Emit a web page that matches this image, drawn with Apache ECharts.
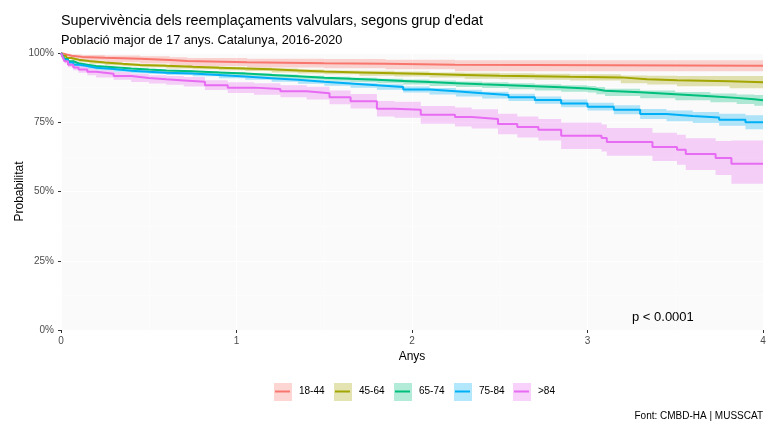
<!DOCTYPE html>
<html>
<head>
<meta charset="utf-8">
<script src="https://cdn.jsdelivr.net/npm/echarts@6/dist/echarts.min.js"></script>
<style>
  html, body { margin: 0; padding: 0; background: #ffffff; }
  #chart { width: 774px; height: 424px; }
</style>
</head>
<body>
<div id="chart"></div>
<script>
// Age groups and their colours
const groups = ['18-44', '45-64', '65-74', '75-84', '>84'];
const colors = ['#F8766D', '#A3A500', '#00BF7D', '#00B0F6', '#E76BF3'];

// Kaplan-Meier step estimates (time in years) with confidence limits
const t1844 = [0, 0.01, 0.03, 0.06, 0.12, 0.25, 0.45, 0.62, 0.72, 1.06, 1.5, 1.85, 2.245];
const s1844 = [1, 0.995, 0.99, 0.986, 0.983, 0.979, 0.975, 0.971, 0.967, 0.963, 0.961, 0.958, 0.954];
const lo1844 = [1, 0.990, 0.983, 0.977, 0.972, 0.967, 0.962, 0.957, 0.953, 0.948, 0.945, 0.941, 0.934];
const hi1844 = [1, 0.999, 0.997, 0.995, 0.993, 0.991, 0.988, 0.985, 0.982, 0.979, 0.978, 0.976, 0.974];

const t4564 = [0, 0.01, 0.03, 0.06, 0.1, 0.16, 0.25, 0.35, 0.45, 0.6, 0.75, 0.9, 1.05, 1.2, 1.35, 1.5, 1.7, 1.9, 2.1, 2.3, 2.5, 2.7, 2.9, 3.19, 3.34, 3.51, 3.81];
const s4564 = [1, .990, .982, .976, .971, .966, .961, .957, .954, .950, .947, .944, .941, .937, .933, .930, .927, .924, .921, .918, .916, .914, .912, .905, .902, .898, .894];
const lo4564 = [1, .987, .978, .972, .967, .961, .956, .952, .949, .944, .941, .938, .935, .930, .926, .923, .918, .915, .912, .907, .905, .903, .901, .891, .886, .880, .873];
const hi4564 = [1, .993, .986, .980, .975, .971, .966, .962, .959, .956, .953, .950, .947, .944, .940, .937, .936, .933, .930, .929, .927, .925, .923, .919, .918, .917, .917];

const t6574 = [0, 0.01, 0.02, 0.04, 0.07, 0.1, 0.15, 0.2, 0.3, 0.4, 0.5, 0.6, 0.75, 0.9, 1.05, 1.2, 1.35, 1.5, 1.65, 1.8, 1.95, 2.1, 2.25, 2.4, 2.55, 2.7, 2.85, 3.0, 3.05, 3.1, 3.3, 3.5, 3.7, 3.85, 3.95];
const s6574 = [1, .988, .978, .970, .963, .958, .953, .949, .944, .940, .937, .934, .930, .926, .921, .916, .911, .907, .903, .899, .895, .891, .887, .884, .880, .876, .872, .869, .864, .858, .851, .844, .838, .833, .829];
const lo6574 = [1, .986, .975, .967, .960, .955, .949, .945, .940, .936, .933, .929, .925, .921, .915, .910, .904, .900, .895, .891, .886, .881, .877, .874, .869, .865, .860, .857, .851, .845, .837, .829, .822, .816, .810];
const hi6574 = [1, .990, .981, .973, .966, .961, .957, .953, .948, .944, .941, .939, .935, .931, .927, .922, .918, .914, .911, .907, .904, .901, .897, .894, .891, .887, .884, .881, .877, .871, .865, .859, .854, .850, .848];

const t7584 = [0, 0.01, 0.02, 0.04, 0.07, 0.1, 0.15, 0.2, 0.3, 0.4, 0.5, 0.6, 0.75, 0.9, 1.05, 1.2, 1.35, 1.5, 1.65, 1.8, 1.95, 2.1, 2.25, 2.4, 2.55, 2.7, 2.85, 3.0, 3.15, 3.3, 3.45, 3.6, 3.75, 3.9];
const s7584 = [1, .986, .975, .966, .958, .953, .947, .942, .936, .932, .929, .926, .921, .915, .909, .903, .896, .890, .884, .877, .868, .862, .855, .848, .840, .830, .818, .806, .795, .780, .773, .767, .759, .750];
const lo7584 = [1, .984, .972, .963, .955, .949, .943, .938, .932, .927, .924, .921, .916, .909, .903, .896, .889, .882, .875, .867, .857, .850, .843, .836, .827, .817, .804, .792, .779, .762, .754, .747, .737, .725];
const hi7584 = [1, .988, .978, .969, .961, .957, .951, .946, .940, .937, .934, .931, .926, .921, .915, .910, .903, .898, .893, .887, .879, .874, .867, .860, .853, .843, .832, .820, .811, .798, .792, .787, .781, .775];

const t84 = [0, 0.01, 0.02, 0.04, 0.07, 0.1, 0.15, 0.2, 0.3, 0.4, 0.5, 0.6, 0.7, 0.82, 0.95, 1.1, 1.25, 1.4, 1.53, 1.65, 1.8, 1.9, 2.05, 2.245, 2.34, 2.49, 2.6, 2.72, 2.85, 3.08, 3.11, 3.37, 3.51, 3.56, 3.73, 3.82];
const s84 = [1, .984, .970, .958, .948, .940, .932, .925, .917, .910, .905, .901, .896, .884, .875, .870, .862, .855, .840, .826, .799, .795, .777, .769, .762, .744, .733, .723, .701, .693, .679, .661, .651, .635, .621, .600];
const lo84 = [1, .978, .962, .949, .938, .929, .920, .912, .903, .895, .890, .885, .879, .866, .856, .849, .840, .832, .815, .800, .771, .766, .745, .735, .727, .707, .695, .684, .653, .644, .629, .610, .597, .578, .560, .528];
const hi84 = [1, .990, .978, .967, .958, .951, .944, .938, .931, .925, .920, .917, .913, .902, .894, .891, .884, .878, .865, .852, .827, .824, .809, .803, .797, .781, .771, .762, .749, .742, .729, .712, .705, .692, .682, .684];

const times = [t1844, t4564, t6574, t7584, t84];
const surv = [s1844, s4564, s6574, s7584, s84];
const lower = [lo1844, lo4564, lo6574, lo7584, lo84];
const upper = [hi1844, hi4564, hi6574, hi7584, hi84];

const yTicks = [0, 0.25, 0.5, 0.75, 1];
const xTicks = [0, 1, 2, 3, 4];
const tMax = 4;

const FONT = "'Liberation Sans', Arial, sans-serif";

function hexA(hex, a) {
  const n = parseInt(hex.slice(1), 16);
  return `rgba(${(n >> 16) & 255},${(n >> 8) & 255},${n & 255},${a})`;
}

// Step-shaped confidence band drawn as one polygon
function bandSeries(i) {
  const t = times[i], lo = lower[i], hi = upper[i];
  return {
    type: 'custom',
    name: groups[i] + ' CI',
    coordinateSystem: 'cartesian2d',
    silent: true,
    z: 1,
    clip: true,
    data: [[0, 1]],
    encode: { x: 0, y: 1 },
    renderItem: function (params, api) {
      const pts = [];
      for (let k = 0; k < t.length; k++) {
        const next = k + 1 < t.length ? t[k + 1] : tMax;
        pts.push(api.coord([t[k], hi[k]]));
        pts.push(api.coord([next, hi[k]]));
      }
      for (let k = t.length - 1; k >= 0; k--) {
        const next = k + 1 < t.length ? t[k + 1] : tMax;
        pts.push(api.coord([next, lo[k]]));
        pts.push(api.coord([t[k], lo[k]]));
      }
      return {
        type: 'polygon',
        shape: { points: pts },
        style: { fill: hexA(colors[i], 0.3), stroke: null }
      };
    }
  };
}

function lineSeries(i) {
  const t = times[i], s = surv[i];
  const data = t.map((v, k) => [v, s[k]]);
  data.push([tMax, s[s.length - 1]]);
  return {
    type: 'line',
    name: groups[i],
    step: 'end',
    data: data,
    showSymbol: false,
    symbol: 'none',
    z: 3,
    lineStyle: { color: colors[i], width: 2 },
    itemStyle: { color: colors[i] },
    animation: false
  };
}

const series = [];
groups.forEach((g, i) => series.push(bandSeries(i)));
groups.forEach((g, i) => series.push(lineSeries(i)));

// Legend keys: shaded box with the line across it
const legendX = [273, 333, 393, 453, 512];
const legendGraphics = [];
groups.forEach((g, i) => {
  const x = legendX[i];
  legendGraphics.push({
    type: 'rect', left: x, top: 382,
    shape: { width: 19, height: 19 },
    style: { fill: hexA(colors[i], 0.3), stroke: '#ffffff', lineWidth: 1 }
  });
  legendGraphics.push({
    type: 'line',
    shape: { x1: x + 2, y1: 391.5, x2: x + 17, y2: 391.5 },
    style: { stroke: colors[i], lineWidth: 2 }
  });
  legendGraphics.push({
    type: 'text', left: x + 26, top: 386,
    style: { text: g, fill: '#000000', font: '10px ' + FONT }
  });
});

const chart = echarts.init(document.getElementById('chart'), null, { renderer: 'canvas' });
chart.setOption({
  animation: false,
  backgroundColor: '#ffffff',
  grid: {
    left: 61, right: 11, top: 53, bottom: 94,
    containLabel: false, outerBoundsMode: 'none',
    show: true, backgroundColor: '#fafafa', borderWidth: 0
  },
  xAxis: {
    type: 'value', min: 0, max: 4, interval: 1,
    name: 'Anys', nameLocation: 'middle', nameGap: 19,
    nameTextStyle: { color: '#000000', fontSize: 12, fontFamily: FONT },
    axisLine: { show: false },
    axisTick: { show: true, length: 3, lineStyle: { color: '#333333' } },
    axisLabel: { color: '#4d4d4d', fontSize: 10, fontFamily: FONT, margin: 6,
      formatter: v => xTicks.includes(v) ? String(v) : '' },
    splitLine: { show: true, lineStyle: { color: '#ffffff', width: 1 } },
    minorTick: { show: false, splitNumber: 2 },
    minorSplitLine: { show: true, lineStyle: { color: '#ffffff', width: 0.5 } }
  },
  yAxis: {
    type: 'value', min: 0, max: 1, interval: 0.25,
    name: 'Probabilitat', nameLocation: 'middle', nameGap: 35, nameRotate: 90,
    nameMoveOverlap: false,
    nameTextStyle: { color: '#000000', fontSize: 12, fontFamily: FONT },
    axisLine: { show: false },
    axisTick: { show: true, length: 3, lineStyle: { color: '#333333' } },
    axisLabel: { color: '#4d4d4d', fontSize: 10, fontFamily: FONT, margin: 7,
      formatter: v => yTicks.includes(v) ? Math.round(v * 100) + '%' : '' },
    splitLine: { show: true, lineStyle: { color: '#ffffff', width: 1 } },
    minorTick: { show: false, splitNumber: 2 },
    minorSplitLine: { show: true, lineStyle: { color: '#ffffff', width: 0.5 } }
  },
  series: series,
  graphic: [
    { type: 'text', left: 61, top: 14,
      style: { text: "Supervivència dels reemplaçaments valvulars, segons grup d'edat", fill: '#000000', font: '14.4px ' + FONT } },
    { type: 'text', left: 61, top: 34,
      style: { text: 'Població major de 17 anys. Catalunya, 2016-2020', fill: '#000000', font: '12.7px ' + FONT } },
    { type: 'text', left: 632, top: 311,
      style: { text: 'p < 0.0001', fill: '#000000', font: '13px ' + FONT } },
    { type: 'text', right: 11, top: 411,
      style: { text: 'Font: CMBD-HA | MUSSCAT', fill: '#000000', font: '10px ' + FONT } }
  ].concat(legendGraphics)
});
</script>
</body>
</html>
